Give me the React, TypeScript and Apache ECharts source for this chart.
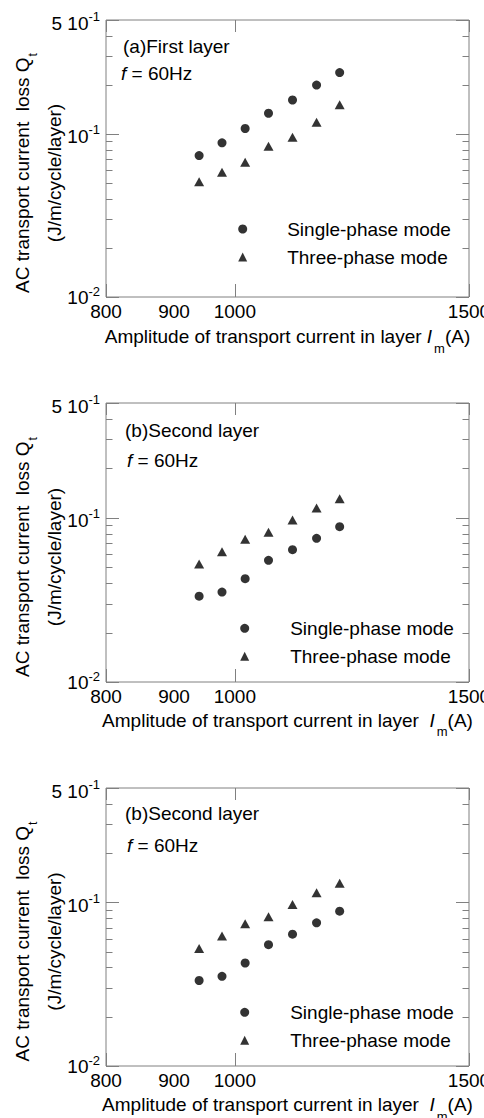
import React, { useEffect, useRef } from 'react';
import * as echarts from 'echarts';

// ---------- data ----------
const CURRENT_A = [940, 978, 1018, 1060, 1105, 1152, 1199];
const FIRST_SINGLE = [0.0737, 0.0882, 0.108, 0.134, 0.1615, 0.1995, 0.238];
const FIRST_THREE = [0.0509, 0.0583, 0.0671, 0.0841, 0.0954, 0.118, 0.151];
const SECOND_SINGLE = [0.0333, 0.0353, 0.0426, 0.0551, 0.0639, 0.075, 0.0883];
const SECOND_THREE = [0.0523, 0.0622, 0.074, 0.0816, 0.0969, 0.1147, 0.1307];

const SERIES_NAMES = ['Single-phase mode', 'Three-phase mode'];
const PANEL_TITLES = ['(a)First layer', '(b)Second layer', '(b)Second layer'];
const PANEL_SINGLE = [FIRST_SINGLE, SECOND_SINGLE, SECOND_SINGLE];
const PANEL_THREE = [FIRST_THREE, SECOND_THREE, SECOND_THREE];
const X_NAME_LEAD = ['Amplitude of transport current in layer ', 'Amplitude of transport current in layer  ', 'Amplitude of transport current in layer  '];

const X_MIN = 800;
const X_MAX = 1500;
const Y_MIN = 0.01;
const Y_MAX = 0.5;
const X_EXTRA_LABELS = [900];
const Y_MINOR_TICKS = [0.02, 0.03, 0.04, 0.05, 0.06, 0.07, 0.08, 0.09, 0.2, 0.3, 0.4];
const Y_TICK_VALUES = [0.01, 0.1, 0.5];
const Y_TICK_MANTISSA = ['10', '10', '5 10'];
const Y_TICK_EXPONENT = ['-2', '-1', '-1'];

// ---------- layout ----------
const FONT = '"Liberation Sans", Arial, sans-serif';
const FRAME = '#808080';
const LAYOUT = [
  { top: 20, height: 277, legendLeft: 238.2, legendTop: 218, legendPad: 35, titleX: 123, titleY: 46, fX: 121, fY: 73, xGap: 30 },
  { top: 403, height: 279, legendLeft: 240.2, legendTop: 617.3, legendPad: 36, titleX: 125, titleY: 430, fX: 127, fY: 460.7, xGap: 28.5 },
  { top: 788, height: 278, legendLeft: 240.2, legendTop: 1001.3, legendPad: 36, titleX: 125, titleY: 813, fX: 127, fY: 845, xGap: 29 },
];
const GRID_LEFT = 106;
const GRID_WIDTH = 363;

function yLabel(v: number): string {
  for (let k = 0; k < Y_TICK_VALUES.length; k++) {
    if (Math.abs(v - Y_TICK_VALUES[k]) < Y_TICK_VALUES[k] * 1e-4) {
      return k === 0
        ? `{m0|${Y_TICK_MANTISSA[k]}}{s0|${Y_TICK_EXPONENT[k]}}`
        : `{m|${Y_TICK_MANTISSA[k]}}{s|${Y_TICK_EXPONENT[k]}}`;
    }
  }
  return '';
}

function buildOption() {
  const grid: any[] = [];
  const xAxis: any[] = [];
  const yAxis: any[] = [];
  const series: any[] = [];
  const legend: any[] = [];
  const graphic: any[] = [];

  LAYOUT.forEach((L, i) => {
    grid.push({
      left: GRID_LEFT, top: L.top, width: GRID_WIDTH, height: L.height,
      show: true, borderColor: FRAME, borderWidth: 1, backgroundColor: 'transparent',
      containLabel: false, outerBoundsMode: 'none',
    });
    xAxis.push({
      type: 'log', logBase: 10, gridIndex: i, min: X_MIN, max: X_MAX, position: 'bottom',
      axisLine: { show: false },
      axisTick: { show: true, inside: true, length: 13, lineStyle: { color: FRAME } },
      splitLine: { show: false },
      axisLabel: { show: true, margin: 5, fontSize: 19, color: '#000', fontFamily: FONT, formatter: (v: number) => String(Math.round(v)) },
      name: `{a|${X_NAME_LEAD[i]}}{i|I}{sub|m}{a|(A)}`,
      nameLocation: 'middle', nameGap: L.xGap, nameMoveOverlap: false,
      nameTextStyle: {
        color: '#000', fontFamily: FONT, fontSize: 19,
        rich: {
          a: { fontSize: 19, fontFamily: FONT, color: '#000', verticalAlign: 'top' },
          i: { fontSize: 19, fontFamily: FONT, color: '#000', fontStyle: 'italic', verticalAlign: 'top', padding: [0, 1, 0, 0] },
          sub: { fontSize: 13, fontFamily: FONT, color: '#000', verticalAlign: 'top', padding: [14.5, 0, 0, 1] },
        },
      },
    });
    xAxis.push({
      type: 'log', logBase: 10, gridIndex: i, min: X_MIN, max: X_MAX, position: 'top',
      axisLine: { show: false },
      axisTick: { show: true, inside: true, length: 12, lineStyle: { color: FRAME } },
      splitLine: { show: false },
      axisLabel: { show: false },
    });
    yAxis.push({
      type: 'log', logBase: 10, gridIndex: i, min: Y_MIN, max: Y_MAX, position: 'left',
      axisLine: { show: false },
      axisTick: { show: true, inside: true, length: 13, lineStyle: { color: FRAME } },
      splitLine: { show: false },
      axisLabel: {
        show: true, margin: 6, color: '#000', fontFamily: FONT, fontSize: 19,
        showMinLabel: true, showMaxLabel: true,
        formatter: yLabel,
        rich: {
          m: { fontSize: 19, fontFamily: FONT, color: '#000', padding: [6, 0, 0, 0] },
          s: { fontSize: 13, fontFamily: FONT, color: '#000', verticalAlign: 'top', padding: [2, 0, 0, 0] },
          m0: { fontSize: 19, fontFamily: FONT, color: '#000', padding: [4, 0, 4, 0] },
          s0: { fontSize: 13, fontFamily: FONT, color: '#000', verticalAlign: 'top', padding: [1, 0, 0, 0] },
        },
      },
      name: '{a|AC transport current  loss Q}{t|t}\n{a|(J/m/cycle/layer)}',
      nameLocation: 'middle', nameRotate: 90, nameGap: 35.5, nameMoveOverlap: false,
      nameTextStyle: {
        color: '#000', fontFamily: FONT, fontSize: 19, padding: [0, 29, 0, 0],
        rich: {
          a: { fontSize: 19, fontFamily: FONT, color: '#000', lineHeight: 32 },
          t: { fontSize: 12, fontFamily: FONT, color: '#000', lineHeight: 19, verticalAlign: 'bottom', padding: [0, 0, 0, 1] },
        },
      },
    });
    yAxis.push({
      type: 'log', logBase: 10, gridIndex: i, min: Y_MIN, max: Y_MAX, position: 'right',
      axisLine: { show: false },
      axisTick: { show: true, inside: true, length: 13, lineStyle: { color: FRAME } },
      splitLine: { show: false },
      axisLabel: { show: false },
    });

    const xi = 2 * i;
    const yi = 2 * i;
    series.push({
      type: 'scatter', name: SERIES_NAMES[0], xAxisIndex: xi, yAxisIndex: yi,
      symbol: 'circle', symbolSize: 9, itemStyle: { color: '#000' },
      data: CURRENT_A.map((x, k) => [x, PANEL_SINGLE[i][k]]),
    });
    series.push({
      type: 'scatter', name: SERIES_NAMES[1], xAxisIndex: xi, yAxisIndex: yi,
      symbol: 'triangle', symbolSize: [10, 9], itemStyle: { color: '#000' },
      data: CURRENT_A.map((x, k) => [x, PANEL_THREE[i][k]]),
    });
    series.push({
      type: 'custom', name: 'minor-ticks-' + i, xAxisIndex: xi, yAxisIndex: yi, silent: true,
      data: Y_MINOR_TICKS.map((v) => [X_MIN, v]),
      renderItem: (params: any, api: any) => {
        const v = api.value(1);
        const l = api.coord([X_MIN, v]);
        const r = api.coord([X_MAX, v]);
        const y = Math.round(l[1]) + 0.5;
        return {
          type: 'group',
          children: [
            { type: 'line', shape: { x1: l[0], y1: y, x2: l[0] + 6.5, y2: y }, style: { stroke: FRAME, lineWidth: 1 } },
            { type: 'line', shape: { x1: r[0] - 6.5, y1: y, x2: r[0], y2: y }, style: { stroke: FRAME, lineWidth: 1 } },
          ],
        };
      },
    });
    series.push({
      type: 'custom', name: 'x-extra-labels-' + i, xAxisIndex: xi, yAxisIndex: yi, silent: true,
      data: X_EXTRA_LABELS.map((v) => [v, Y_MIN]),
      renderItem: (params: any, api: any) => {
        const p = api.coord([api.value(0), Y_MIN]);
        return {
          type: 'text', x: p[0], y: p[1] + 5,
          style: { text: String(api.value(0)), fontSize: 19, fontFamily: FONT, fill: '#000', align: 'center', verticalAlign: 'top' },
        };
      },
    });

    legend.push({
      orient: 'vertical', left: L.legendLeft, top: L.legendTop, padding: 0, itemGap: 6,
      itemWidth: 9, itemHeight: 9, selectedMode: false,
      data: [{ name: SERIES_NAMES[0], icon: 'circle' }, { name: SERIES_NAMES[1], icon: 'triangle' }],
      textStyle: { fontSize: 19, color: '#000', fontFamily: FONT, lineHeight: 22, padding: [0, 0, 0, L.legendPad] },
    });

    graphic.push({
      type: 'text', x: L.titleX, y: L.titleY,
      style: { text: PANEL_TITLES[i], font: `19px ${FONT}`, fill: '#000', align: 'left', verticalAlign: 'middle' },
    });
    graphic.push({
      type: 'text', x: L.fX, y: L.fY,
      style: {
        text: '{i|f}{n| = 60Hz}', font: `19px ${FONT}`, fill: '#000', align: 'left', verticalAlign: 'middle',
        rich: { i: { font: `italic 19px ${FONT}`, fill: '#000' }, n: { font: `19px ${FONT}`, fill: '#000' } },
      },
    });
  });

  return {
    animation: false,
    backgroundColor: '#fff',
    textStyle: { fontFamily: FONT },
    grid, xAxis, yAxis, series, legend, graphic,
  };
}

export default function App() {
  const ref = useRef<HTMLDivElement>(null);
  useEffect(() => {
    if (!ref.current) return;
    const chart = echarts.init(ref.current, null, { renderer: 'svg' });
    chart.setOption(buildOption() as any);
    return () => chart.dispose();
  }, []);
  return <div ref={ref} style={{ position: 'fixed', left: 0, top: 0, width: 484, height: 1118 }} />;
}
